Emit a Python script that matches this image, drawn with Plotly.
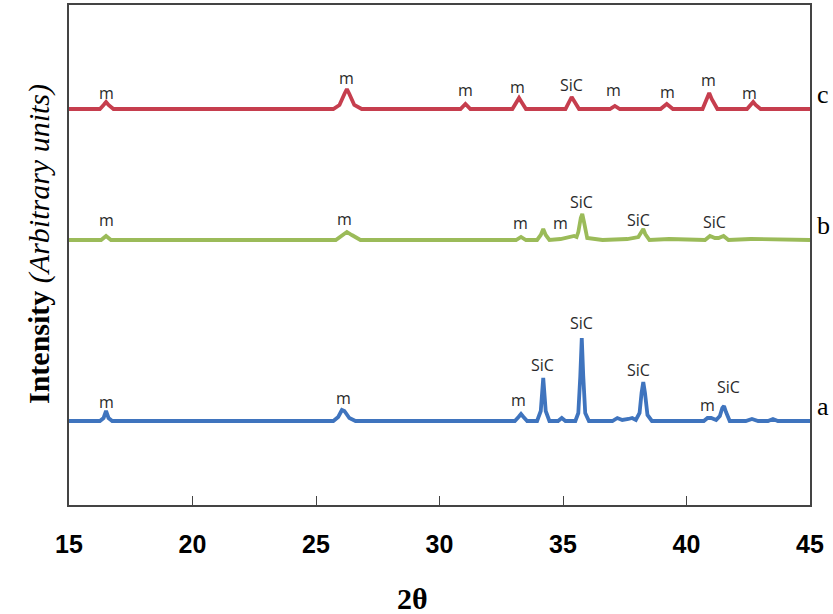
import plotly.graph_objects as go

# ---- data (2-theta in degrees, intensity in arbitrary units) ----
two_theta_a = [15.0, 16.25, 16.4, 16.5, 16.6, 16.75, 25.7, 25.9, 26.05, 26.15, 26.35, 26.6, 29.0, 31.0,
               33.05, 33.2, 33.3, 33.4, 33.55, 33.95, 34.1, 34.2, 34.3, 34.45, 34.8, 34.95, 35.1, 35.5,
               35.62, 35.7, 35.76, 35.82, 35.9, 36.05, 37.0, 37.2, 37.4, 37.65, 37.8, 37.95, 38.1, 38.18,
               38.25, 38.32, 38.42, 38.6, 40.7, 40.85, 41.0, 41.2, 41.35, 41.45, 41.52, 41.6, 41.75, 42.4,
               42.65, 42.9, 43.3, 43.5, 43.7, 45.0]
intensity_a = [0, 0, 3, 10, 3, 0, 0, 4, 11, 10, 3, 0, 0, 0,
               0, 4, 7, 4, 0, 0, 10, 43, 10, 0, 0, 3, 0, 0,
               8, 45, 83, 45, 8, 0, 0, 3, 1, 2, 3, 1, 8, 28,
               39, 28, 6, 0, 0, 3, 3, 1, 5, 13, 15, 9, 0, 0,
               2, 0, 0, 2, 0, 0]

two_theta_b = [15.0, 16.3, 16.5, 16.7, 25.8, 26.05, 26.25, 26.45, 26.8, 33.1, 33.3, 33.5, 33.95, 34.1,
               34.2, 34.3, 34.45, 34.9, 35.3, 35.45, 35.55, 35.62, 35.72, 35.78, 35.85, 35.98, 36.6, 37.6,
               38.05, 38.18, 38.25, 38.33, 38.5, 39.3, 40.75, 40.95, 41.15, 41.3, 41.5, 41.7, 42.6, 45.0]
intensity_b = [0, 0, 4, 0, 0, 5, 8, 5, 0, 0, 3, 0, 0, 5,
               11, 5, 0, 1, 3, 4, 3, 8, 22, 26, 18, 2, 0, 1,
               3, 9, 11, 6, 0, 1, 0, 4, 2, 2, 4, 0, 1, 0]

two_theta_c = [15.0, 16.25, 16.4, 16.5, 16.6, 16.8, 25.7, 25.95, 26.15, 26.25, 26.35, 26.55, 26.85,
               30.85, 31.05, 31.25, 32.95, 33.12, 33.22, 33.32, 33.5, 35.1, 35.25, 35.35, 35.45, 35.65,
               36.9, 37.1, 37.3, 38.95, 39.2, 39.45, 40.65, 40.82, 40.92, 41.02, 41.25, 42.45, 42.6,
               42.7, 42.8, 43.0, 45.0]
intensity_c = [0, 0, 4, 7, 4, 0, 0, 4, 15, 20, 15, 4, 0,
               0, 5, 0, 0, 7, 11, 7, 0, 0, 8, 12, 8, 0,
               0, 3, 0, 0, 5, 0, 0, 10, 16, 10, 0, 0, 5,
               7, 4, 0, 0]

pattern_names = ["a", "b", "c"]
pattern_offsets = [84, 265, 396]

label_x_a = [16.53, 26.1, 33.18, 34.19, 35.76, 38.04, 40.87, 41.68]
label_text_a = ["m", "m", "m", "SiC", "SiC", "SiC", "m", "SiC"]
label_h_a = [19, 23, 21, 56, 98, 51, 16, 34]

label_x_b = [16.53, 26.17, 33.26, 34.88, 35.76, 38.04, 41.15]
label_text_b = ["m", "m", "m", "m", "SiC", "SiC", "SiC"]
label_h_b = [20, 21, 17, 17, 38, 20, 18]

label_x_c = [16.5, 26.25, 31.07, 33.14, 35.35, 37.03, 39.25, 40.91, 42.57]
label_text_c = ["m", "m", "m", "m", "SiC", "m", "m", "m", "m"]
label_h_c = [16, 31, 19, 22, 24, 19, 17, 29, 16]

x_ticks = [15, 20, 25, 30, 35, 40, 45]

# ---- figure ----
colors = ["#3F74BE", "#9BBB59", "#C63E4E"]
xs = [two_theta_a, two_theta_b, two_theta_c]
ys = [intensity_a, intensity_b, intensity_c]
lxs = [label_x_a, label_x_b, label_x_c]
lts = [label_text_a, label_text_b, label_text_c]
lhs = [label_h_a, label_h_b, label_h_c]

fig = go.Figure()
annotations = []
for i in range(3):
    off = pattern_offsets[i]
    fig.add_trace(go.Scatter(
        x=xs[i], y=[v + off for v in ys[i]], mode="lines",
        line=dict(color=colors[i], width=3.8), showlegend=False,
        hoverinfo="x+y", name=pattern_names[i]))
    for lx, lt, lh in zip(lxs[i], lts[i], lhs[i]):
        annotations.append(dict(x=lx, y=off + lh, text=lt, showarrow=False,
                                xref="x", yref="y", yanchor="middle",
                                font=dict(family="Open Sans", size=16, color="#2a2a2a")))
    annotations.append(dict(x=1, xref="paper", xanchor="left", xshift=5,
                            y=off, yref="y", yanchor="bottom", yshift=-2,
                            text=pattern_names[i], showarrow=False,
                            font=dict(family="Liberation Serif", size=26, color="black")))

# axis titles as annotations for exact placement
annotations.append(dict(x=0, xref="paper", xanchor="center", xshift=-30,
                        y=0.522, yref="paper", yanchor="middle", textangle=-90,
                        text="<b>Intensity</b> <i>(Arbitrary units)</i>", showarrow=False,
                        font=dict(family="Liberation Serif", size=30, color="black")))
annotations.append(dict(x=0.463, xref="paper", xanchor="center",
                        y=-0.186, yref="paper", yanchor="middle",
                        text="<b>2θ</b>", showarrow=False,
                        font=dict(family="Liberation Serif", size=30, color="black")))

fig.update_layout(
    width=833, height=614,
    margin=dict(l=69, r=23, t=5, b=109, autoexpand=False),
    paper_bgcolor="white", plot_bgcolor="white",
    annotations=annotations,
    xaxis=dict(
        range=[15, 45], tickvals=x_ticks, ticktext=[str(t) for t in x_ticks],
        ticks="inside", ticklen=9, tickwidth=1.2, tickcolor="#444",
        showline=True, linecolor="#444", linewidth=1.5, mirror=True,
        showgrid=False, zeroline=False, ticklabelstandoff=16,
        tickfont=dict(family="Liberation Sans", size=25, color="black", weight="bold"),
    ),
    yaxis=dict(
        range=[0, 500], showticklabels=False, ticks="",
        showline=True, linecolor="#444", linewidth=1.5, mirror=True,
        showgrid=False, zeroline=False,
    ),
)

fig.write_html("out.html", config={"displayModeBar": False},
               post_script="document.body.style.margin='0px';")
